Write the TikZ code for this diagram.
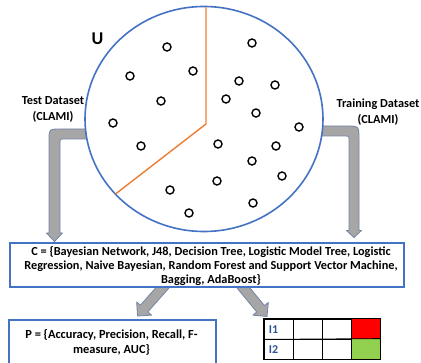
\documentclass[tikz,border=0pt]{standalone}
\usepackage{fontspec}
\setmainfont{Carlito}
\usetikzlibrary{shapes.geometric,calc}
\definecolor{ublue}{RGB}{68,114,196}
\definecolor{uorange}{RGB}{237,125,49}
\definecolor{afill}{RGB}{166,166,166}
\definecolor{aline}{RGB}{115,132,165}
\definecolor{ired}{RGB}{255,0,0}
\definecolor{igreen}{RGB}{146,208,80}
\definecolor{itext}{RGB}{47,85,151}
\newcommand\blockarrow[2]{%
  \path ($(#2)!10pt!(#1)$) coordinate (hb);
  \draw[blockarr] ($(#1)!5pt!90:(#2)$) -- ($(hb)!5pt!90:(#2)$) -- ($(hb)!10pt!90:(#2)$) -- (#2)
    -- ($(hb)!10pt!-90:(#2)$) -- ($(hb)!5pt!-90:(#2)$) -- ($(#1)!5pt!-90:(#2)$) -- cycle;}
\begin{document}
\begin{tikzpicture}[x=1pt,y=-1pt,
  blockarr/.style={fill=afill, draw=aline, line width=0.8pt, line join=round},
  dot/.style={circle, draw=black, line width=1.4pt, minimum size=8pt, inner sep=0pt},
  lbl/.style={font=\bfseries\fontsize{12.3}{16}\selectfont, align=center, inner sep=0pt},
  bluebox/.style={draw=ublue, line width=1.6pt, fill=white},
  txt/.style={font=\bfseries\fontsize{12.3}{14}\selectfont, align=center, inner sep=0pt},
  ptxt/.style={font=\bfseries\fontsize{12.4}{15.5}\selectfont, align=center, inner sep=0pt},
  cell/.style={draw=black, line width=0.8pt, minimum width=29pt, minimum height=20pt, inner sep=0pt},
  ilbl/.style={font=\bfseries\fontsize{12}{13}\selectfont, text=itext, inner sep=0pt, anchor=west}]
\useasboundingbox (0,0) rectangle (421,363);

% bent arrows (drawn below the circle)
\coordinate (ltip) at (54.5,241.5);
\coordinate (rtip) at (354,237.5);
\draw[blockarr] (92,129) -- (61,129) .. controls (49,129) .. (49,141) -- (49,233) -- (46.5,233) -- (ltip)
  -- (62.5,233) -- (60,233) -- (60,142) .. controls (60,139) .. (63,139) -- (92,139) -- cycle;
\draw[blockarr] (316,126) -- (346,126) .. controls (359,126) .. (359,139) -- (359,230.5) -- (361.5,230.5) -- (rtip)
  -- (346.5,230.5) -- (349,230.5) -- (349,139) .. controls (349,136) .. (346,136) -- (316,136) -- cycle;

% universe
\node[ellipse, draw=ublue, line width=1.6pt, fill=white, minimum width=238pt, minimum height=225pt, inner sep=0pt] (U) at (204,119) {};
\coordinate (o1) at (206,7.5);
\coordinate (oc) at (206,124);
\coordinate (o2) at (115.5,194);
\draw[uorange, line width=1.4pt] (o1) -- (oc) -- (o2);
\node[font=\bfseries\fontsize{18}{20}\selectfont, inner sep=0pt] (ulab) at (97.5,38.5) {U};

\foreach \x/\y [count=\i] in {167/47,130/76,193/71,161/101,113/123,141/146,252/43,239/81,275/85,226/99,256/113,299/127,218/144,276/146,252/161,282/176,217/181,170/190,189/213,253/203}
  \node[dot] (d\i) at (\x,\y) {};

\node[lbl] (test) at (53,109.5) {Test Dataset\\(CLAMI)};
\node[lbl] (train) at (378,112) {Training Dataset\\(CLAMI)};

% diagonal arrows
\coordinate (t1) at (165,285);
\coordinate (p1) at (137.5,316);
\coordinate (t2) at (241,285);
\coordinate (p2) at (267,316.5);
\blockarrow{t1}{p1}
\blockarrow{t2}{p2}

% classifier box
\node[bluebox, minimum width=394pt, minimum height=44pt, inner sep=0pt] (C) at (207,265) {};
\node[txt] (ctext) at (211,266.5) {C = \{Bayesian Network, J48, Decision Tree, Logistic Model Tree, Logistic\\Regression, Naive Bayesian, Random Forest and Support Vector Machine,\\Bagging, AdaBoost\}};

% performance box
\node[bluebox, minimum width=207pt, minimum height=60pt, inner sep=0pt, anchor=north west] (P) at (8,319) {};
\node[ptxt] (ptext) at (111.5,342.5) {P = \{Accuracy, Precision, Recall, F-\\measure, AUC\}};

% table
\foreach \c in {1,2,3,4}{
  \node[cell] (a\c) at ({264+29*(\c-1)+14.5},329) {};
  \node[cell] (b\c) at ({264+29*(\c-1)+14.5},349) {};
}
\fill[ired] (a4.south west) rectangle (a4.north east);
\fill[igreen] (b4.south west) rectangle (b4.north east);
\draw[line width=0.8pt] (a1.north west) rectangle (b4.south east);
\draw[line width=0.8pt] (a1.south west) -- (b4.north east);
\foreach \c in {1,2,3}{\draw[line width=0.8pt] (a\c.north east) -- (b\c.south east);}
\node[ilbl] (i1) at ($(a1.west)+(5,0.5)$) {I1};
\node[ilbl] (i2) at ($(b1.west)+(5,0.5)$) {I2};
\end{tikzpicture}
\end{document}
